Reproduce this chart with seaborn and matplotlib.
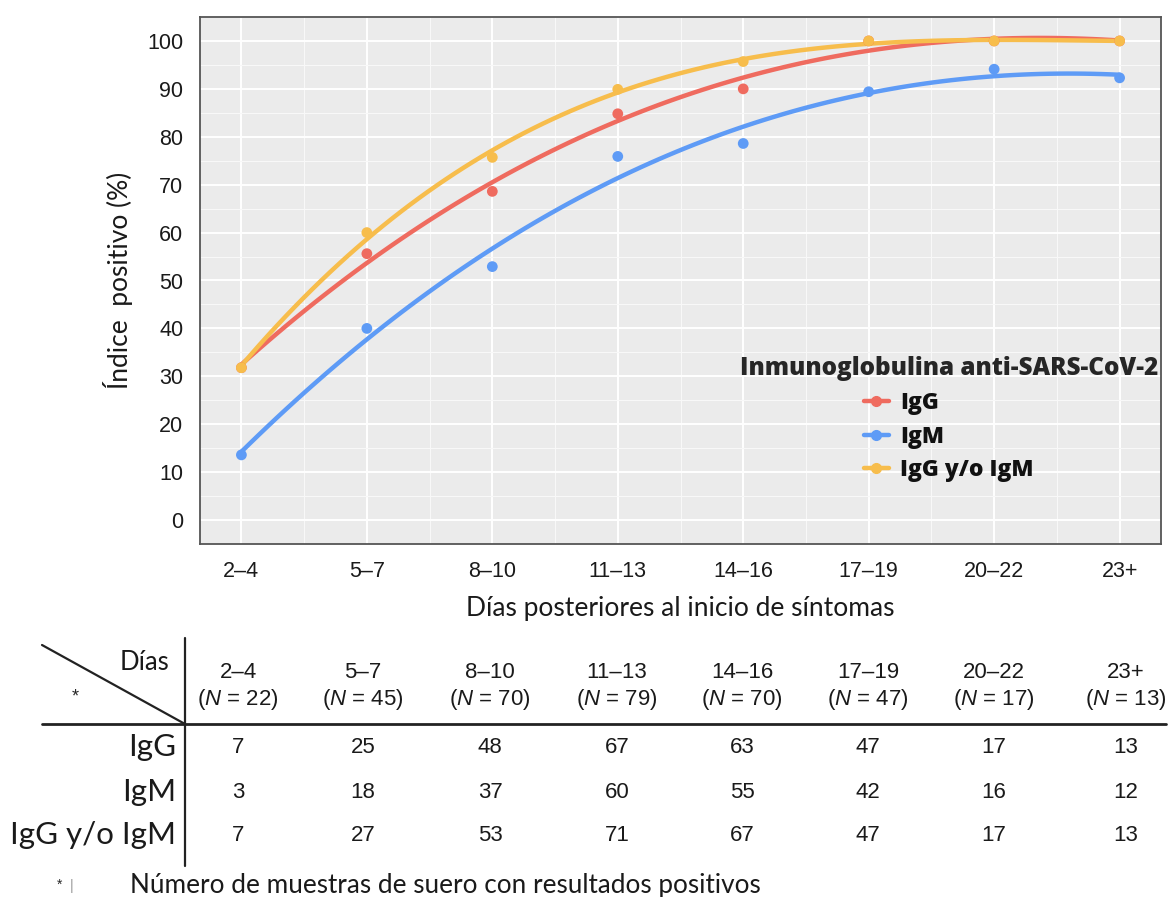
import numpy as np
import pandas as pd
import seaborn as sns
import matplotlib.pyplot as plt
from matplotlib.lines import Line2D
from matplotlib.ticker import MultipleLocator, FixedLocator

dias = ['2–4', '5–7', '8–10', '11–13', '14–16', '17–19', '20–22', '23+']
n_total = [22, 45, 70, 79, 70, 47, 17, 13]
igg_pct = [31.8, 55.6, 68.6, 84.8, 90.0, 100.0, 100.0, 100.0]
igm_pct = [13.6, 40.0, 52.9, 75.9, 78.6, 89.4, 94.1, 92.3]
ambos_pct = [31.8, 60.0, 75.7, 89.9, 95.7, 100.0, 100.0, 100.0]
igg_n = [7, 25, 48, 67, 63, 47, 17, 13]
igm_n = [3, 18, 37, 60, 55, 42, 16, 12]
ambos_n = [7, 27, 53, 71, 67, 47, 17, 13]
series = ['IgG', 'IgM', 'IgG y/o IgM']
colores = ['#EF6B5F', '#5E9BF6', '#F7BD4C']

sns.set_style('white')
plt.rcParams['mathtext.fontset'] = 'custom'
plt.rcParams['mathtext.it'] = 'Liberation Sans:italic'
plt.rcParams['mathtext.rm'] = 'Liberation Sans'

df = pd.DataFrame({
    'pos': list(range(len(dias))) * 3,
    'pct': igg_pct + igm_pct + ambos_pct,
    'serie': [s for s in series for _ in dias],
})

W, H = 1173, 897
fig = plt.figure(figsize=(W / 100, H / 100), dpi=100)
ax = fig.add_axes([200 / W, 1 - 544 / H, 961 / W, 527 / H])
ax.set_facecolor('#EBEBEB')
ax.set_axisbelow(True)

for serie, color in zip(series, colores):
    sub = df[df['serie'] == serie]
    sns.regplot(data=sub, x='pos', y='pct', order=3, ci=None, scatter=False,
                truncate=True, line_kws=dict(color=color, lw=3.2, solid_capstyle='round'), ax=ax)
for serie, color in zip(series, colores):
    sub = df[df['serie'] == serie]
    sns.scatterplot(data=sub, x='pos', y='pct', color=color, s=60, edgecolor='none', ax=ax, zorder=3)

ax.set_xlim(-0.33, 7.33)
ax.set_ylim(-5, 105)
ax.set_xticks(range(len(dias)))
ax.set_xticklabels(dias)
ax.yaxis.set_major_locator(MultipleLocator(10))
ax.yaxis.set_minor_locator(MultipleLocator(5))
ax.xaxis.set_minor_locator(FixedLocator(np.arange(-0.5, 8, 1)))
ax.grid(which='major', color='white', lw=1.4)
ax.grid(which='minor', color='#F8F8F8', lw=0.8)
ax.tick_params(which='minor', length=0)
ax.tick_params(which='major', length=5, width=1, color='#444444', labelsize=15.5,
               labelcolor='#1A1A1A', pad=7)
for lab in ax.get_xticklabels() + ax.get_yticklabels():
    lab.set_family('Liberation Sans')
for sp in ax.spines.values():
    sp.set_color('#555555')
    sp.set_linewidth(1.3)

ax.set_xlabel('Días posteriores al inicio de síntomas', family='Lato', fontsize=19,
              color='#1A1A1A', labelpad=10)
ax.set_ylabel('Índice  positivo (%)', family='Lato', fontsize=19, color='#1A1A1A', labelpad=10)

handles = [Line2D([0], [0], color=c, lw=3.2, marker='o', markersize=7) for c in colores]
leg = ax.legend(handles, series, title='Inmunoglobulina anti-SARS-CoV-2', frameon=False,
                loc='upper left', bbox_to_anchor=(0.54, 0.395), handlelength=1.1,
                handletextpad=0.5, labelspacing=0.42,
                prop=dict(family='Open Sans', weight='heavy', size=16.5),
                title_fontproperties=dict(family='Open Sans', weight='heavy', size=17.5))
for t in leg.get_texts():
    t.set_color('#111111')


def fx(px):
    return px / W


def fy(py):
    return 1 - py / H


# tabla inferior
lc = '#222222'
fig.add_artist(Line2D([fx(42), fx(1166)], [fy(724), fy(724)], transform=fig.transFigure, color=lc, lw=2))
fig.add_artist(Line2D([fx(185), fx(185)], [fy(638), fy(866)], transform=fig.transFigure, color=lc, lw=1.6))
fig.add_artist(Line2D([fx(42), fx(185)], [fy(645), fy(724)], transform=fig.transFigure, color=lc, lw=1.6))
fig.text(fx(169), fy(663), 'Días', family='Lato', fontsize=18.5, ha='right', va='center', color='#1A1A1A')
fig.text(fx(75), fy(697), '*', family='Liberation Sans', fontsize=13, ha='center', va='center')

col_x = [238, 363, 490, 617, 742, 868, 994, 1126]
for x, d, n in zip(col_x, dias, n_total):
    fig.text(fx(x), fy(672), d, family='Liberation Sans', fontsize=16, ha='center', va='center', color='#1A1A1A')
    fig.text(fx(x), fy(699), '($N$ = %d)' % n, family='Liberation Sans', fontsize=16, ha='center',
             va='center', color='#1A1A1A')

filas = [igg_n, igm_n, ambos_n]
fila_y = [747, 792, 835]
for serie, vals, y in zip(series, filas, fila_y):
    fig.text(fx(176), fy(y), serie, family='Lato', fontsize=22.5, ha='right', va='center', color='#1A1A1A')
    for x, v in zip(col_x, vals):
        fig.text(fx(x), fy(y), str(v), family='Liberation Sans', fontsize=16, ha='center',
                 va='center', color='#1A1A1A')

fig.text(fx(60), fy(885), '*', family='Liberation Sans', fontsize=10, ha='center', va='center')
fig.text(fx(72), fy(886), '|', family='Liberation Sans', fontsize=10, ha='center', va='center', color='#999999')
fig.text(fx(130), fy(885), 'Número de muestras de suero con resultados positivos', family='Lato',
         fontsize=18.8, ha='left', va='center', color='#1A1A1A')

fig.savefig('out.png', dpi=100)
